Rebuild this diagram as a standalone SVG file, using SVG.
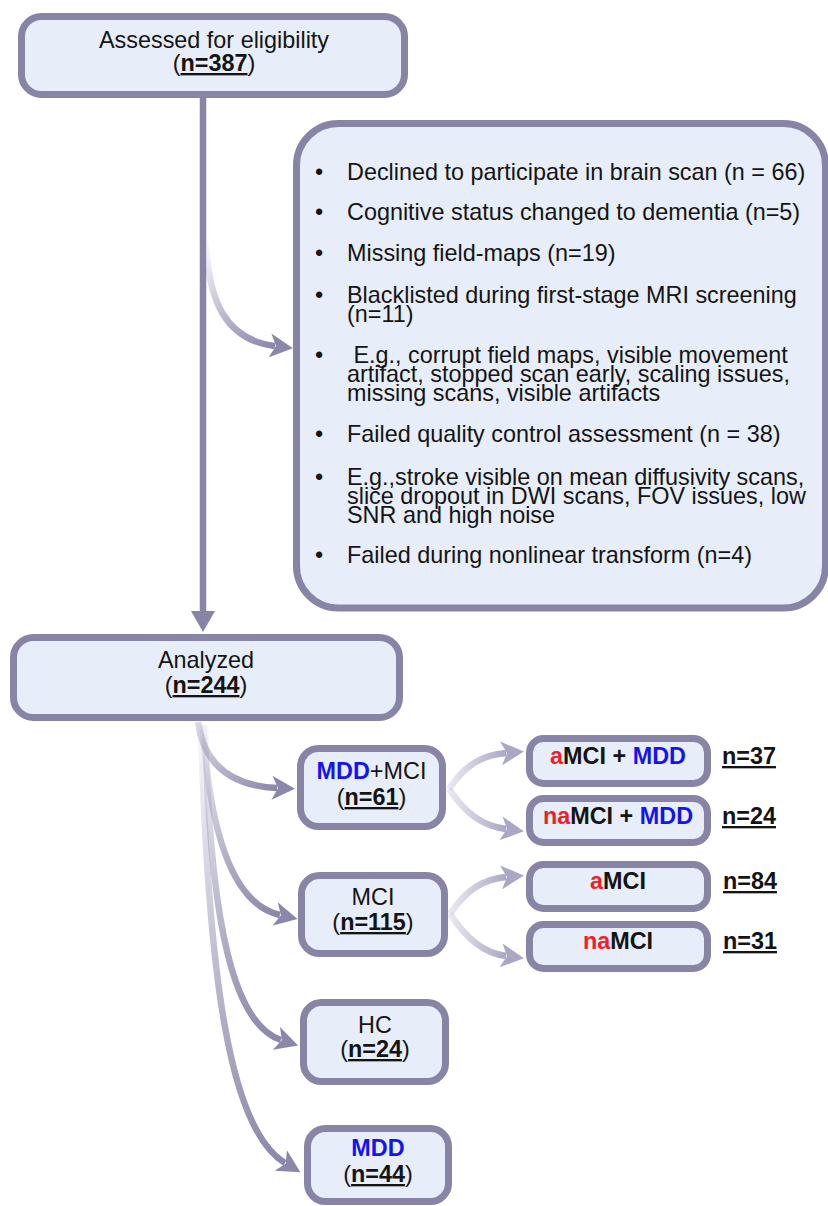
<svg xmlns="http://www.w3.org/2000/svg" width="828" height="1206" viewBox="0 0 828 1206">
<style>
text{font-family:"Liberation Sans",Arial,sans-serif;font-size:23.4px;fill:#141414}
.c{text-anchor:middle}
.b{font-weight:bold}
.u{font-weight:bold;text-decoration:underline}
.blue{fill:#1414f0;font-weight:bold}
.red{fill:#f01e28;font-weight:bold}
.box{fill:#e8eef9;stroke:#8784a6;stroke-width:7}
.ln{fill:none;stroke-width:6.5}
</style>
<defs>
<marker id="tri" markerUnits="userSpaceOnUse" markerWidth="22" markerHeight="24" viewBox="0 0 22 24" refX="2" refY="12" orient="auto">
<path d="M0,0 L21,12 L0,24 Z" fill="#8784a6"/>
</marker>
<marker id="arr" markerUnits="userSpaceOnUse" markerWidth="24" markerHeight="24" viewBox="0 0 24 24" refX="5" refY="12" orient="auto">
<path d="M0,0 L23,12 L0,24 L6,12 Z" fill="#8a87aa"/>
</marker>
<marker id="arrL" markerUnits="userSpaceOnUse" markerWidth="24" markerHeight="24" viewBox="0 0 24 24" refX="5" refY="12" orient="auto">
<path d="M0,0 L23,12 L0,24 L6,12 Z" fill="#a9a7c5"/>
</marker>
<linearGradient id="gEx" gradientUnits="userSpaceOnUse" x1="206" y1="240" x2="275" y2="346">
<stop offset="0" stop-color="#8a87aa" stop-opacity="0"/><stop offset="0.6" stop-color="#8a87aa" stop-opacity="0.6"/><stop offset="1" stop-color="#8a87aa"/>
</linearGradient>
<linearGradient id="g1" gradientUnits="userSpaceOnUse" x1="198" y1="722" x2="277" y2="788">
<stop offset="0" stop-color="#8a87aa" stop-opacity="0.3"/><stop offset="1" stop-color="#8a87aa"/>
</linearGradient>
<linearGradient id="g2" gradientUnits="userSpaceOnUse" x1="203" y1="725" x2="280" y2="915">
<stop offset="0" stop-color="#8a87aa" stop-opacity="0.05"/><stop offset="1" stop-color="#8a87aa"/>
</linearGradient>
<linearGradient id="g3" gradientUnits="userSpaceOnUse" x1="205" y1="725" x2="281" y2="1040">
<stop offset="0" stop-color="#8a87aa" stop-opacity="0.05"/><stop offset="1" stop-color="#8a87aa"/>
</linearGradient>
<linearGradient id="g4" gradientUnits="userSpaceOnUse" x1="201" y1="725" x2="285" y2="1163">
<stop offset="0" stop-color="#8a87aa" stop-opacity="0.05"/><stop offset="1" stop-color="#8a87aa"/>
</linearGradient>
<linearGradient id="gs" gradientUnits="objectBoundingBox" x1="0" y1="0" x2="1" y2="0">
<stop offset="0" stop-color="#a9a7c5" stop-opacity="0.25"/><stop offset="1" stop-color="#a9a7c5"/>
</linearGradient>
</defs>

<g id="connectors">
<path class="ln" d="M203,98 L203,613" stroke="#8784a6" marker-end="url(#tri)"/>
<path class="ln" d="M206,240 C208,300 225,340 275,346" stroke="url(#gEx)" marker-end="url(#arr)"/>
<path class="ln" d="M198,722 C204,765 232,786 277,788" stroke="url(#g1)" marker-end="url(#arr)"/>
<path class="ln" d="M203,725 C210,840 235,905 280,915" stroke="url(#g2)" marker-end="url(#arr)"/>
<path class="ln" d="M205,725 C210,930 235,1025 281,1040" stroke="url(#g3)" marker-end="url(#arr)"/>
<path class="ln" d="M201,725 C208,980 230,1130 285,1163" stroke="url(#g4)" marker-end="url(#arr)"/>
<path class="ln" d="M449,789 C465,765 482,755 506,753" stroke="url(#gs)" marker-end="url(#arrL)"/>
<path class="ln" d="M449,789 C465,813 482,826 506,829" stroke="url(#gs)" marker-end="url(#arrL)"/>
<path class="ln" d="M450,914 C466,890 483,879 506,877" stroke="url(#gs)" marker-end="url(#arrL)"/>
<path class="ln" d="M450,914 C466,938 483,953 506,956" stroke="url(#gs)" marker-end="url(#arrL)"/>
</g>

<g id="assessed">
<rect class="box" x="21.5" y="16.5" width="383" height="78" rx="20"/>
<text class="c" x="214" y="48">Assessed for eligibility<tspan x="214" y="71">(<tspan class="u">n=387</tspan>)</tspan></text>
</g>

<g id="excluded">
<rect class="box" x="296.5" y="123.5" width="529" height="484.5" rx="42"/>
<text class="c" x="319" y="180">•</text>
<text x="347" y="180">Declined to participate in brain scan (n = 66)</text>
<text class="c" x="319" y="220">•</text>
<text x="347" y="220">Cognitive status changed to dementia (n=5)</text>
<text class="c" x="319" y="261">•</text>
<text x="347" y="261">Missing field-maps (n=19)</text>
<text class="c" x="319" y="303">•</text>
<text x="347" y="303">Blacklisted during first-stage MRI screening<tspan x="347" y="322">(n=11)</tspan></text>
<text class="c" x="319" y="363">•</text>
<text x="347" y="363" xml:space="preserve"> E.g., corrupt field maps, visible movement<tspan x="347" y="382">artifact, stopped scan early, scaling issues,</tspan><tspan x="347" y="401">missing scans, visible artifacts</tspan></text>
<text class="c" x="319" y="442">•</text>
<text x="347" y="442">Failed quality control assessment (n = 38)</text>
<text class="c" x="319" y="485">•</text>
<text x="347" y="485">E.g.,stroke visible on mean diffusivity scans,<tspan x="347" y="504">slice dropout in DWI scans, FOV issues, low</tspan><tspan x="347" y="523">SNR and high noise</tspan></text>
<text class="c" x="319" y="563">•</text>
<text x="347" y="563">Failed during nonlinear transform (n=4)</text>
</g>

<g id="analyzed">
<rect class="box" x="13.5" y="637.5" width="386" height="80" rx="20"/>
<text class="c" x="206" y="668">Analyzed<tspan x="206" y="693">(<tspan class="u">n=244</tspan>)</tspan></text>
</g>

<g id="mddmci">
<rect class="box" x="300.5" y="748.5" width="142" height="78" rx="18"/>
<text class="c" x="371.5" y="779"><tspan class="blue">MDD</tspan>+MCI<tspan x="371.5" y="805">(<tspan class="u">n=61</tspan>)</tspan></text>
</g>

<g id="mci">
<rect class="box" x="301.5" y="875.5" width="143" height="78" rx="18"/>
<text class="c" x="373" y="905">MCI<tspan x="373" y="930">(<tspan class="u">n=115</tspan>)</tspan></text>
</g>

<g id="hc">
<rect class="box" x="303.5" y="1002.5" width="142" height="79" rx="18"/>
<text class="c" x="375" y="1033">HC<tspan x="375" y="1057">(<tspan class="u">n=24</tspan>)</tspan></text>
</g>

<g id="mdd">
<rect class="box" x="307.5" y="1128.5" width="141" height="73" rx="18"/>
<text class="c" x="378" y="1156"><tspan class="blue">MDD</tspan><tspan x="378" y="1182">(<tspan class="u">n=44</tspan>)</tspan></text>
</g>

<g id="amci-mdd">
<rect class="box" x="529.5" y="738.5" width="178" height="45" rx="14"/>
<text class="c b" x="618" y="764"><tspan class="red">a</tspan>MCI + <tspan class="blue">MDD</tspan></text>
<text class="u" x="722" y="764">n=37</text>
</g>

<g id="namci-mdd">
<rect class="box" x="529.5" y="798.5" width="178" height="44" rx="14"/>
<text class="c b" x="618" y="824"><tspan class="red">na</tspan>MCI + <tspan class="blue">MDD</tspan></text>
<text class="u" x="722" y="824">n=24</text>
</g>

<g id="amci">
<rect class="box" x="529.5" y="864.5" width="178" height="44" rx="14"/>
<text class="c b" x="618" y="889"><tspan class="red">a</tspan>MCI</text>
<text class="u" x="723" y="889">n=84</text>
</g>

<g id="namci">
<rect class="box" x="529.5" y="924.5" width="178" height="44" rx="14"/>
<text class="c b" x="618" y="949"><tspan class="red">na</tspan>MCI</text>
<text class="u" x="723" y="949">n=31</text>
</g>
</svg>
